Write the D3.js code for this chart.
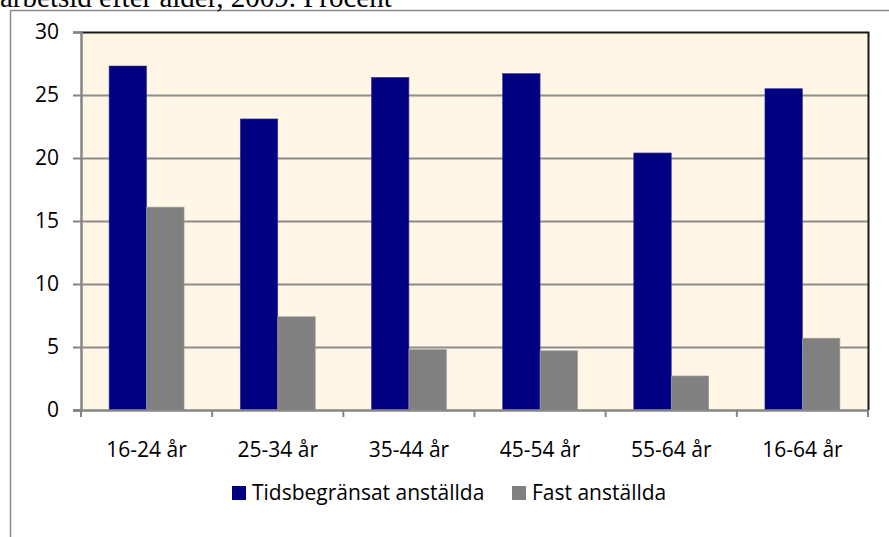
<!DOCTYPE html>
<html>
<head>
<meta charset="utf-8">
<script src="https://cdn.jsdelivr.net/npm/d3@7"></script>
<style>
  body { margin: 0; background: #fff; }
  svg { display: block; }
  text { font-family: "Open Sans", sans-serif; fill: #000; }
</style>
</head>
<body>
<svg id="chart" width="889" height="537"></svg>
<script>
// chart data
var ageGroups = ["16-24 år", "25-34 år", "35-44 år", "45-54 år", "55-64 år", "16-64 år"];
var seriesNames = ["Tidsbegränsat anställda", "Fast anställda"];
var temporaryValues = [27.3, 23.1, 26.4, 26.7, 20.4, 25.5];
var permanentValues = [16.1, 7.4, 4.8, 4.7, 2.7, 5.7];
var yTicks = [0, 5, 10, 15, 20, 25, 30];
var seriesColors = ["#000080", "#808080"];

var svg = d3.select("#chart"),
    width = +svg.attr("width"),
    height = +svg.attr("height");

var plot = {left: 81, top: 32, right: 868, bottom: 410};

// outer chart frame (cut off at the right and bottom)
svg.append("rect")
    .attr("x", 10.5)
    .attr("y", 10.5)
    .attr("width", 900)
    .attr("height", 600)
    .attr("fill", "none")
    .attr("stroke", "#8a8a8a")
    .attr("stroke-width", 1.5);

// title, mostly above the picture
svg.append("text")
    .attr("x", 0)
    .attr("y", 7)
    .style("font-family", "'Liberation Serif', serif")
    .attr("font-size", "29px")
    .text("arbetsid efter ålder, 2009. Procent");

var x0 = d3.scaleBand()
    .domain(ageGroups)
    .range([plot.left, plot.right])
    .paddingInner(0)
    .paddingOuter(0);

var x1 = d3.scaleBand()
    .domain(seriesNames)
    .range([0, x0.bandwidth()])
    .paddingOuter(0.75)
    .paddingInner(0);

var y = d3.scaleLinear()
    .domain([0, 30])
    .range([plot.bottom, plot.top]);

// plot background
svg.append("rect")
    .attr("x", plot.left)
    .attr("y", plot.top)
    .attr("width", plot.right - plot.left)
    .attr("height", plot.bottom - plot.top)
    .attr("fill", "#fff6e5");

// gridlines
svg.append("g")
    .selectAll("line")
    .data(yTicks.filter(function (d) { return d > 0 && d < 30; }))
    .enter().append("line")
    .attr("x1", plot.left)
    .attr("x2", plot.right)
    .attr("y1", function (d) { return Math.round(y(d)) + 0.5; })
    .attr("y2", function (d) { return Math.round(y(d)) + 0.5; })
    .attr("stroke", "#8c8c8c")
    .attr("stroke-width", 2);

// plot border top and right
svg.append("path")
    .attr("d", "M" + plot.left + "," + (plot.top + 0.5) + "H" + (plot.right + 0.5) + "V" + plot.bottom)
    .attr("fill", "none")
    .attr("stroke", "#1a1a1a")
    .attr("stroke-width", 2);

// bars
var data = ageGroups.map(function (g, i) {
    return {group: g, values: [temporaryValues[i], permanentValues[i]]};
});

var groups = svg.append("g")
    .selectAll("g")
    .data(data)
    .enter().append("g")
    .attr("transform", function (d) { return "translate(" + x0(d.group) + ",0)"; });

groups.selectAll("rect")
    .data(function (d) {
        return d.values.map(function (v, j) { return {name: seriesNames[j], value: v, idx: j}; });
    })
    .enter().append("rect")
    .attr("x", function (d) { return x1(d.name); })
    .attr("width", x1.bandwidth())
    .attr("y", function (d) { return y(d.value); })
    .attr("height", function (d) { return y(0) - y(d.value); })
    .attr("fill", function (d) { return seriesColors[d.idx]; })
    .attr("stroke", function (d) { return d.idx === 0 ? "#3a3aa0" : "#a0a0a0"; })
    .attr("stroke-width", 0.6);

// y axis
var yAxis = svg.append("g")
    .attr("transform", "translate(" + plot.left + ",0)")
    .call(d3.axisLeft(y).tickValues(yTicks).tickSize(8).tickPadding(14));
yAxis.select(".domain").attr("stroke", "#868686").attr("stroke-width", 2.5);
yAxis.selectAll(".tick line").attr("stroke", "#868686").attr("stroke-width", 2);
yAxis.selectAll(".tick text")
    .attr("font-size", "21px")
    .style("font-family", "'Open Sans', sans-serif")
    .attr("fill", "#000");

// x axis
var xAxis = svg.append("g")
    .attr("transform", "translate(0," + plot.bottom + ")");
xAxis.append("line")
    .attr("x1", plot.left - 8)
    .attr("x2", plot.right)
    .attr("y1", 0.5)
    .attr("y2", 0.5)
    .attr("stroke", "#868686")
    .attr("stroke-width", 2.5);
xAxis.selectAll(".xtick")
    .data(d3.range(ageGroups.length + 1))
    .enter().append("line")
    .attr("class", "xtick")
    .attr("x1", function (i) { return plot.left + i * x0.step(); })
    .attr("x2", function (i) { return plot.left + i * x0.step(); })
    .attr("y1", 0)
    .attr("y2", 7)
    .attr("stroke", "#868686")
    .attr("stroke-width", 2);
xAxis.selectAll(".xlabel")
    .data(ageGroups)
    .enter().append("text")
    .attr("class", "xlabel")
    .attr("x", function (d) { return x0(d) + x0.bandwidth() / 2; })
    .attr("y", 47)
    .attr("text-anchor", "middle")
    .attr("font-size", "21px")
    .text(function (d) { return d; });

// legend
var legendItems = [
    {name: seriesNames[0], color: seriesColors[0], x: 232},
    {name: seriesNames[1], color: seriesColors[1], x: 512}
];
var legend = svg.append("g")
    .selectAll("g")
    .data(legendItems)
    .enter().append("g")
    .attr("transform", function (d) { return "translate(" + d.x + ",486)"; });
legend.append("rect")
    .attr("width", 14)
    .attr("height", 14)
    .attr("fill", function (d) { return d.color; });
legend.append("text")
    .attr("x", 20)
    .attr("y", 14)
    .attr("font-size", "21px")
    .text(function (d) { return d.name; });
</script>
</body>
</html>
